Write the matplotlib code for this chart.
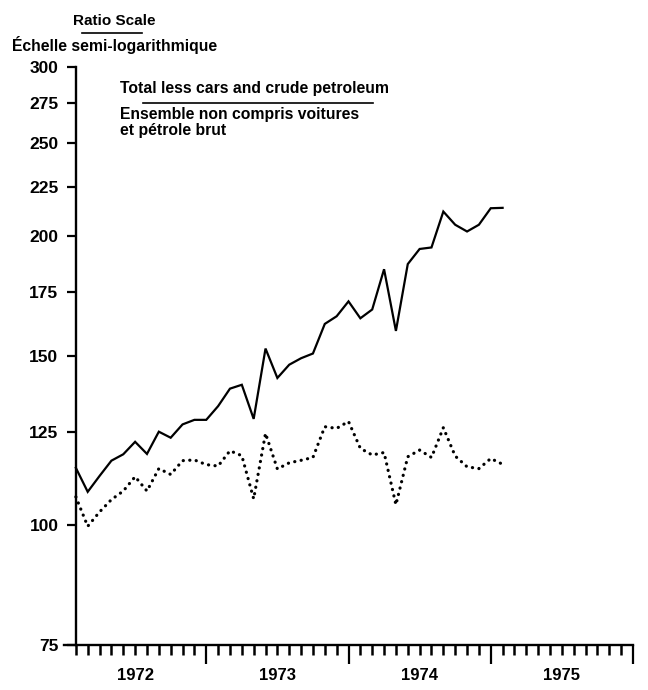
import numpy as np
import pandas as pd
import matplotlib
matplotlib.use("Agg")
import matplotlib.pyplot as plt
from matplotlib.lines import Line2D
from matplotlib.ticker import NullLocator, FixedLocator, FixedFormatter
from matplotlib.transforms import blended_transform_factory

plt.rcParams["font.family"] = ["Liberation Sans", "DejaVu Sans"]
plt.rcParams["font.weight"] = "bold"

# monthly index values, Jan 1972 - Jan 1975
months = pd.period_range("1972-01", "1975-01", freq="M")
total_less = [114.7, 108.3, 112.5, 116.7, 118.5, 122.1, 118.6, 125.1, 123.3, 127.3,
              128.7, 128.7, 133.0, 138.7, 140.0, 129.0, 152.7, 142.3, 146.9, 149.2,
              150.9, 162.0, 165.0, 171.0, 164.2, 167.7, 184.7, 159.3, 187.0, 193.9,
              194.6, 212.1, 205.5, 202.2, 205.5, 213.8, 214.0]
dotted = [107.0, 99.7, 103.2, 106.3, 108.5, 112.3, 108.5, 114.5, 112.9, 116.7,
          116.9, 115.6, 115.2, 119.5, 118.1, 106.5, 124.6, 114.4, 116.1, 116.8,
          117.6, 126.6, 126.1, 128.2, 120.2, 118.3, 119.0, 105.0, 117.8, 119.7,
          117.6, 126.3, 118.0, 115.0, 114.5, 117.3, 115.7]
y_ticks = [75, 100, 125, 150, 175, 200, 225, 250, 275, 300]
years = [1972, 1973, 1974, 1975]

x = np.array([(p.year - years[0]) * 12 + p.month for p in months])

fig = plt.figure(figsize=(6.48, 6.9), dpi=100)
W, H = 648, 690
ax = fig.add_axes([64 / W, 1 - 645 / H, (633 - 64) / W, (645 - 67) / H])

ax.plot(x, total_less, color="black", lw=1.6, solid_joinstyle="miter")
ax.plot(x, dotted, color="black", lw=2.3, ls=(0, (0.05, 2.0)),
        dash_capstyle="round")

ax.set_yscale("log")
ax.set_ylim(75, 300)
ax.yaxis.set_major_locator(FixedLocator(y_ticks))
ax.yaxis.set_major_formatter(FixedFormatter([str(v) for v in y_ticks]))
ax.yaxis.set_minor_locator(NullLocator())
ax.tick_params(axis="y", length=6.5, width=1.6, pad=6, labelsize=12.5)

ax.set_xlim(0, 12 * len(years))
ax.set_xticks([12 * (i + 1) for i in range(len(years))])
ax.set_xticks([m for m in range(1, 12 * len(years)) if m % 12], minor=True)
ax.set_xticklabels([])
ax.tick_params(axis="x", which="major", length=14, width=1.6)
ax.tick_params(axis="x", which="minor", length=7, width=1.8)

for s in ["top", "right"]:
    ax.spines[s].set_visible(False)
ax.spines["left"].set_position(("data", 1))
ax.spines["left"].set_linewidth(1.7)
ax.spines["bottom"].set_linewidth(1.7)

tr = blended_transform_factory(ax.transData, fig.transFigure)
for i, yr in enumerate(years):
    ax.text(12 * i + 6, 1 - 676 / H, str(yr), transform=tr, ha="center",
            va="center", fontsize=12, fontweight="bold")

fig.text(114 / W, 1 - 21 / H, "Ratio Scale", ha="center", va="center",
         fontsize=11, fontweight="bold")
fig.add_artist(Line2D([82 / W, 142 / W], [1 - 33 / H, 1 - 33 / H],
                      color="black", lw=1.2))
fig.text(12 / W, 1 - 45 / H, "Échelle semi-logarithmique", ha="left",
         va="center", fontsize=11.3, fontweight="bold")

fig.text(120 / W, 1 - 88 / H, "Total less cars and crude petroleum",
         ha="left", va="center", fontsize=11.3, fontweight="bold")
fig.add_artist(Line2D([143 / W, 373 / W], [1 - 103 / H, 1 - 103 / H],
                      color="black", lw=1.2))
fig.text(120 / W, 1 - 114 / H, "Ensemble non compris voitures",
         ha="left", va="center", fontsize=11.3, fontweight="bold")
fig.text(120 / W, 1 - 130 / H, "et pétrole brut",
         ha="left", va="center", fontsize=11.3, fontweight="bold")

fig.savefig("out.png", dpi=100)
